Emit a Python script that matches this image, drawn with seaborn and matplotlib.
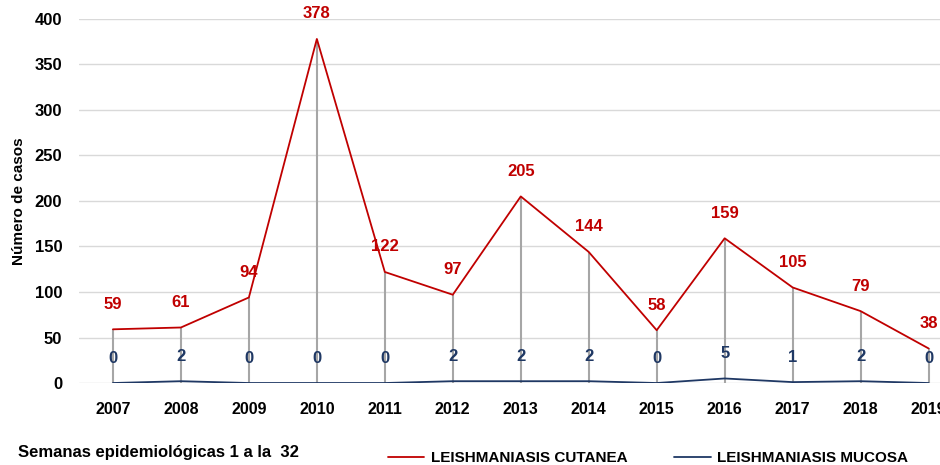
import pandas as pd
import matplotlib
matplotlib.use("Agg")
import matplotlib.pyplot as plt
import seaborn as sns

years = [2007, 2008, 2009, 2010, 2011, 2012, 2013, 2014, 2015, 2016, 2017, 2018, 2019]
cutanea = [59, 61, 94, 378, 122, 97, 205, 144, 58, 159, 105, 79, 38]
mucosa = [0, 2, 0, 0, 0, 2, 2, 2, 0, 5, 1, 2, 0]

red = "#C00000"
blue = "#1F3864"

sns.set_theme(style="white")
plt.rcParams["font.family"] = ["Liberation Sans", "DejaVu Sans"]
plt.rcParams["font.weight"] = "bold"
plt.rcParams["text.color"] = "black"

df = pd.DataFrame({
    "Año": years * 2,
    "Casos": cutanea + mucosa,
    "Serie": ["LEISHMANIASIS CUTANEA"] * len(years) + ["LEISHMANIASIS MUCOSA"] * len(years),
})

fig = plt.figure(figsize=(9.4, 4.65), dpi=100)
ax = fig.add_axes([0.084, 0.1763, 0.940, 0.783])

# gridlines and drop lines
ax.set_axisbelow(True)
ax.yaxis.grid(True, color="#d9d9d9", linewidth=1)
ax.vlines(years, 0, cutanea, color="#a6a6a6", linewidth=1.5, zorder=1)

sns.lineplot(data=df, x="Año", y="Casos", hue="Serie",
             palette=[red, blue], linewidth=1.3, ax=ax, legend=False, zorder=3)

# data labels
for x, v in zip(years, cutanea):
    ax.annotate(str(v), (x, v), xytext=(0, 18), textcoords="offset points",
                ha="center", va="center", color=red, fontsize=12, fontweight="bold")
for x, v in zip(years, mucosa):
    ax.annotate(str(v), (x, v), xytext=(0, 18), textcoords="offset points",
                ha="center", va="center", color=blue, fontsize=12, fontweight="bold")

ax.set_xlim(2006.5, 2019.5)
ax.set_ylim(0, 400)
ax.set_yticks(range(0, 401, 50))
ax.set_xticks(years)
ax.set_xticklabels([str(y) for y in years])
ax.tick_params(axis="both", length=0, labelsize=11.5, colors="black")
ax.tick_params(axis="y", labelsize=12, pad=12)
ax.tick_params(axis="x", pad=14)
for lab in ax.get_xticklabels() + ax.get_yticklabels():
    lab.set_fontweight("bold")
for s in ax.spines.values():
    s.set_visible(False)

ax.set_xlabel("")
ax.set_ylabel("Número de casos", fontsize=11, fontweight="bold", color="black", labelpad=6)

fig.text(18 / 940, 1 - 452 / 465, "Semanas epidemiológicas 1 a la  32",
         fontsize=12, fontweight="bold", va="center", ha="left", color="black")

handles = [plt.Line2D([], [], color=red, linewidth=1.3),
           plt.Line2D([], [], color=blue, linewidth=1.3)]
leg = fig.legend(handles, ["LEISHMANIASIS CUTANEA", "LEISHMANIASIS MUCOSA"],
                 loc="center", bbox_to_anchor=(648 / 940, 1 - 458 / 465), ncol=2,
                 frameon=False, handlelength=2.4, handletextpad=0.4, columnspacing=3.1,
                 prop={"weight": "bold", "size": 11})
for t in leg.get_texts():
    t.set_color("black")

fig.savefig("out.png", dpi=100)
